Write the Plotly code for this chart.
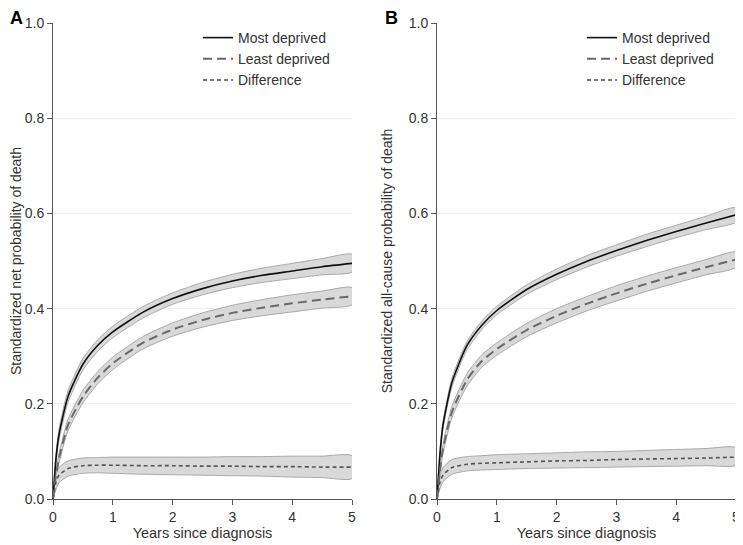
import plotly.graph_objects as go

years = [0, 0.05, 0.1, 0.25, 0.5, 0.75, 1, 1.5, 2, 2.5, 3, 3.5, 4, 4.5, 5]

# Panel A: standardized net probability of death
a_most = [0, 0.085, 0.135, 0.215, 0.283, 0.323, 0.351, 0.392, 0.421, 0.442, 0.458, 0.47, 0.479, 0.488, 0.495]
a_most_hi = [0, 0.095, 0.147, 0.227, 0.295, 0.335, 0.363, 0.404, 0.433, 0.455, 0.472, 0.485, 0.495, 0.505, 0.514]
a_most_lo = [0, 0.075, 0.123, 0.203, 0.271, 0.311, 0.339, 0.38, 0.409, 0.429, 0.444, 0.455, 0.463, 0.471, 0.477]
a_least = [0, 0.05, 0.085, 0.155, 0.215, 0.255, 0.285, 0.328, 0.356, 0.376, 0.391, 0.402, 0.411, 0.419, 0.426]
a_least_hi = [0, 0.058, 0.095, 0.167, 0.228, 0.268, 0.298, 0.341, 0.37, 0.391, 0.407, 0.419, 0.429, 0.437, 0.444]
a_least_lo = [0, 0.042, 0.075, 0.143, 0.202, 0.242, 0.272, 0.315, 0.342, 0.361, 0.375, 0.385, 0.393, 0.401, 0.408]
a_diff = [0, 0.035, 0.05, 0.064, 0.07, 0.071, 0.071, 0.07, 0.07, 0.069, 0.069, 0.068, 0.068, 0.067, 0.067]
a_diff_hi = [0, 0.05, 0.066, 0.08, 0.086, 0.087, 0.088, 0.088, 0.088, 0.088, 0.089, 0.089, 0.09, 0.09, 0.091]
a_diff_lo = [0, 0.02, 0.034, 0.048, 0.054, 0.055, 0.054, 0.052, 0.051, 0.05, 0.049, 0.048, 0.046, 0.045, 0.043]

# Panel B: standardized all-cause probability of death
b_most = [0, 0.095, 0.155, 0.245, 0.322, 0.365, 0.396, 0.44, 0.472, 0.499, 0.522, 0.543, 0.562, 0.58, 0.597]
b_most_hi = [0, 0.103, 0.163, 0.254, 0.331, 0.374, 0.405, 0.45, 0.483, 0.511, 0.534, 0.556, 0.575, 0.594, 0.612]
b_most_lo = [0, 0.087, 0.147, 0.236, 0.313, 0.356, 0.387, 0.43, 0.461, 0.487, 0.51, 0.53, 0.549, 0.566, 0.582]
b_least = [0, 0.06, 0.105, 0.183, 0.25, 0.29, 0.315, 0.355, 0.385, 0.41, 0.432, 0.452, 0.47, 0.487, 0.503]
b_least_hi = [0, 0.068, 0.115, 0.195, 0.263, 0.303, 0.328, 0.369, 0.4, 0.425, 0.448, 0.468, 0.486, 0.503, 0.519]
b_least_lo = [0, 0.052, 0.095, 0.171, 0.237, 0.277, 0.302, 0.341, 0.37, 0.395, 0.416, 0.436, 0.454, 0.471, 0.487]
b_diff = [0, 0.035, 0.05, 0.066, 0.073, 0.075, 0.076, 0.078, 0.08, 0.081, 0.083, 0.084, 0.085, 0.086, 0.088]
b_diff_hi = [0, 0.048, 0.066, 0.083, 0.089, 0.091, 0.093, 0.095, 0.097, 0.099, 0.1, 0.102, 0.104, 0.106, 0.108]
b_diff_lo = [0, 0.022, 0.036, 0.052, 0.059, 0.061, 0.062, 0.064, 0.065, 0.066, 0.067, 0.068, 0.069, 0.07, 0.071]

FONT = "Liberation Sans, Arial, sans-serif"
W, H = 735, 537  # page body adds an 8px margin

series_style = {
    "Most deprived": dict(color="#111111", width=1.6, dash="solid"),
    "Least deprived": dict(color="#6a6a6a", width=2, dash="9px,5px"),
    "Difference": dict(color="#555555", width=1.6, dash="4px,3px"),
}

panels = [
    ("x", "y", "legend", [
        ("Most deprived", a_most, a_most_lo, a_most_hi),
        ("Least deprived", a_least, a_least_lo, a_least_hi),
        ("Difference", a_diff, a_diff_lo, a_diff_hi),
    ]),
    ("x2", "y2", "legend2", [
        ("Most deprived", b_most, b_most_lo, b_most_hi),
        ("Least deprived", b_least, b_least_lo, b_least_hi),
        ("Difference", b_diff, b_diff_lo, b_diff_hi),
    ]),
]

fig = go.Figure()
for xa, ya, leg, rows in panels:
    # confidence bands first
    for name, est, lo, hi in rows:
        fig.add_trace(go.Scatter(
            x=years + years[::-1], y=hi + lo[::-1],
            fill="toself", fillcolor="#d9d9d9",
            line=dict(color="#a9a9a9", width=1, shape="spline", smoothing=0.6),
            mode="lines", showlegend=False, hoverinfo="skip",
            xaxis=xa, yaxis=ya,
        ))
    for name, est, lo, hi in rows:
        st = series_style[name]
        fig.add_trace(go.Scatter(
            x=years, y=est, name=name, mode="lines",
            line=dict(color=st["color"], width=st["width"], dash=st["dash"],
                      shape="spline", smoothing=0.6),
            xaxis=xa, yaxis=ya, legend=leg,
        ))

axis_common = dict(
    showline=True, linecolor="#555555", linewidth=1,
    ticks="outside", ticklen=5, tickcolor="#555555",
    tickfont=dict(family=FONT, size=14, color="#333333"),
    zeroline=False, automargin=False,
)
x_common = dict(axis_common, range=[0, 5], tickvals=[0, 1, 2, 3, 4, 5],
                showgrid=False,
                title=dict(text="Years since diagnosis", standoff=1,
                           font=dict(family=FONT, size=14.5, color="#333333")))
y_common = dict(axis_common, range=[0, 1], tickvals=[0, 0.2, 0.4, 0.6, 0.8, 1.0],
                tickformat=".1f", showgrid=True, gridcolor="#efefef", gridwidth=1)

leg_common = dict(
    font=dict(family=FONT, size=14, color="#333333"),
    bgcolor="rgba(0,0,0,0)", borderwidth=0,
    xanchor="left", yanchor="top", tracegroupgap=0, itemwidth=30,
)

fig.update_layout(
    width=W, height=H,
    margin=dict(l=0, r=0, t=0, b=0, autoexpand=False),
    paper_bgcolor="white", plot_bgcolor="white",
    font=dict(family=FONT, color="#333333"),
    xaxis=dict(x_common, domain=[45 / W, 344 / W], anchor="y"),
    yaxis=dict(y_common, domain=[46 / H, 522 / H], anchor="x",
               title=dict(text="Standardized net probability of death", standoff=12,
                          font=dict(family=FONT, size=14, color="#333333"))),
    xaxis2=dict(x_common, domain=[429 / W, 728 / W], anchor="y2"),
    yaxis2=dict(y_common, domain=[46 / H, 522 / H], anchor="x2",
                title=dict(text="Standardized all-cause probability of death", standoff=12,
                           font=dict(family=FONT, size=14, color="#333333"))),
    legend=dict(leg_common, x=190 / W, y=1 - 14 / H),
    legend2=dict(leg_common, x=574 / W, y=1 - 14 / H),
    annotations=[
        dict(text="<b>A</b>", x=0, y=1, xref="paper", yref="paper",
             xanchor="left", yanchor="top", showarrow=False, yshift=2,
             font=dict(family=FONT, size=18, color="#000000")),
        dict(text="<b>B</b>", x=375 / W, y=1, xref="paper", yref="paper",
             xanchor="left", yanchor="top", showarrow=False, yshift=2,
             font=dict(family=FONT, size=18, color="#000000")),
    ],
)

fig.write_html("out.html")
